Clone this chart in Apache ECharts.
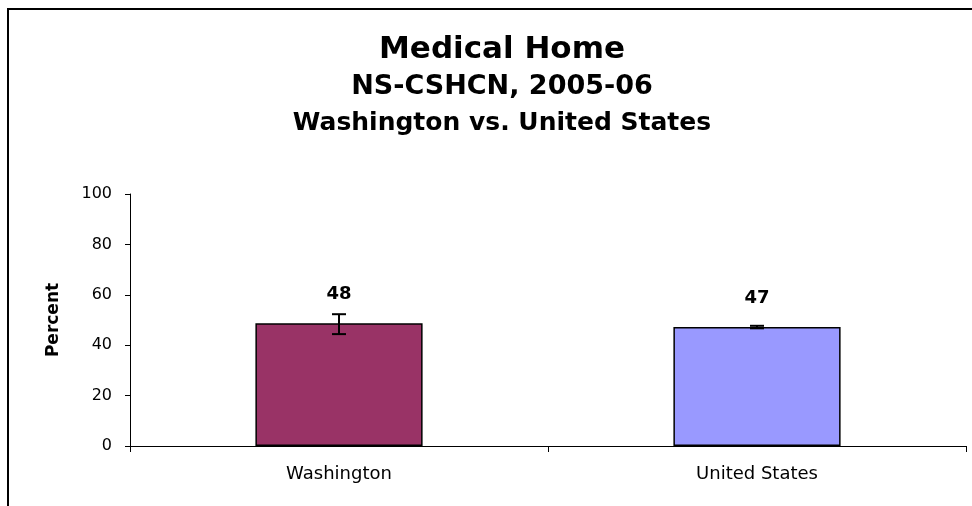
<!DOCTYPE html>
<html>
<head>
<meta charset="utf-8">
<script src="https://cdn.jsdelivr.net/npm/echarts@6/dist/echarts.min.js"></script>
<style>
  html, body { margin: 0; padding: 0; background: #fff; }
  #myChart { width: 972px; height: 506px; }
</style>
</head>
<body>
<div id="myChart"></div>
<script>
  // data
  let categories = ['Washington', 'United States'];
  let percentValues = [48.7, 47.2];
  let percentLabels = ['48', '47'];
  let errorLow = [44.4, 46.7];
  let errorHigh = [52.3, 47.7];
  let barColors = ['#993366', '#9999FF'];
  let yTicks = [0, 20, 40, 60, 80, 100];

  let font = 'DejaVu Sans';

  let option = {
    animation: false,
    backgroundColor: '#fff',
    title: [
      {
        text: 'Medical Home',
        left: 497, top: 29, textAlign: 'center',
        textStyle: { fontFamily: font, fontWeight: 'bold', fontSize: 31, color: '#000' }
      },
      {
        text: 'NS-CSHCN, 2005-06',
        left: 497, top: 68, textAlign: 'center',
        textStyle: { fontFamily: font, fontWeight: 'bold', fontSize: 27, color: '#000' }
      },
      {
        text: 'Washington vs. United States',
        left: 497, top: 106, textAlign: 'center',
        textStyle: { fontFamily: font, fontWeight: 'bold', fontSize: 25, color: '#000' }
      }
    ],
    grid: { left: 130, right: 6, top: 194, bottom: 60 },
    xAxis: {
      type: 'category',
      data: categories,
      axisLine: { lineStyle: { color: '#000', width: 1 } },
      axisTick: { show: true, length: 6, lineStyle: { color: '#000' } },
      axisLabel: { color: '#000', fontFamily: font, fontSize: 18, margin: 19 }
    },
    yAxis: {
      type: 'value',
      min: yTicks[0],
      max: yTicks[yTicks.length - 1],
      interval: yTicks[1] - yTicks[0],
      name: 'Percent',
      nameLocation: 'middle',
      nameGap: 68,
      nameRotate: 90,
      nameTextStyle: { color: '#000', fontFamily: font, fontWeight: 'bold', fontSize: 17 },
      axisLine: { show: true, lineStyle: { color: '#000', width: 1 } },
      axisTick: { show: true, length: 5, lineStyle: { color: '#000' } },
      axisLabel: { color: '#000', fontFamily: font, fontSize: 16, margin: 18 },
      splitLine: { show: false }
    },
    series: [
      {
        type: 'bar',
        barCategoryGap: '60%',
        data: percentValues.map((v, i) => ({
          value: v,
          itemStyle: { color: barColors[i], borderColor: '#000', borderWidth: 1.5 }
        })),
        label: {
          show: true,
          position: 'top',
          distance: 20,
          fontFamily: font,
          fontWeight: 'bold',
          fontSize: 18,
          color: '#000',
          formatter: p => percentLabels[p.dataIndex]
        },
        z: 2
      },
      {
        type: 'custom',
        z: 3,
        data: categories.map((c, i) => [i, errorLow[i], errorHigh[i]]),
        renderItem: (params, api) => {
          let lo = api.coord([api.value(0), api.value(1)]);
          let hi = api.coord([api.value(0), api.value(2)]);
          let half = 7;
          let style = { stroke: '#000', lineWidth: 2 };
          return {
            type: 'group',
            children: [
              { type: 'line', shape: { x1: hi[0], y1: hi[1], x2: lo[0], y2: lo[1] }, style: style },
              { type: 'line', shape: { x1: hi[0] - half, y1: hi[1], x2: hi[0] + half, y2: hi[1] }, style: style },
              { type: 'line', shape: { x1: lo[0] - half, y1: lo[1], x2: lo[0] + half, y2: lo[1] }, style: style }
            ]
          };
        }
      }
    ],
    graphic: [
      {
        type: 'polyline',
        shape: { points: [[8, 506], [8, 9], [972, 9]] },
        style: { stroke: '#000', lineWidth: 2, fill: null }
      }
    ]
  };

  let myChart = echarts.init(document.getElementById('myChart'));
  myChart.setOption(option);
</script>
</body>
</html>
